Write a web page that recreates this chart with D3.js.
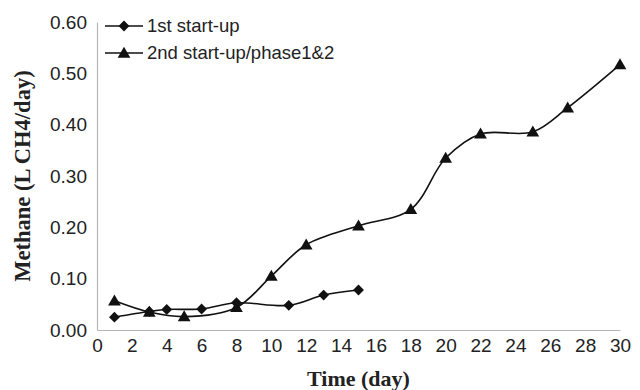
<!DOCTYPE html>
<meta charset="UTF-8">
<style>
body { margin: 0; background: #fff; }
.tick text { font: 19px "Liberation Sans", Arial, sans-serif; fill: #222; }
.axis-title { font: bold 22px "Liberation Serif", "Times New Roman", serif; fill: #222; }
.legend text { font: 18.5px "Liberation Sans", Arial, sans-serif; fill: #222; }
.series { fill: none; stroke: #111; stroke-width: 1.6px; }
</style>
<body>
<script src="https://d3js.org/d3.v7.min.js"></script>
<script>

// data
var days1 = [1, 3, 4, 6, 8, 11, 13, 15];
var methane1 = [0.025, 0.036, 0.040, 0.041, 0.053, 0.048, 0.068, 0.078];
var days2 = [1, 3, 5, 8, 10, 12, 15, 18, 20, 22, 25, 27, 30];
var methane2 = [0.057, 0.035, 0.026, 0.044, 0.105, 0.166, 0.203, 0.235, 0.335, 0.382, 0.386, 0.433, 0.517];
var seriesNames = ["1st start-up", "2nd start-up/phase1&2"];
var xTicks = d3.range(0, 31, 2);
var yTicks = [0, 0.1, 0.2, 0.3, 0.4, 0.5, 0.6];

var width = 640, height = 390;
var margin = {top: 22, right: 20, bottom: 60, left: 97};

var svg = d3.select("body").append("svg")
    .attr("width", width)
    .attr("height", height);

var x = d3.scaleLinear().domain([0, 30]).range([margin.left, 620]);
var y = d3.scaleLinear().domain([0, 0.6]).range([330, margin.top]);

// axes (no tick marks, light grey lines)
var xAxis = svg.append("g")
    .attr("transform", "translate(0," + y(0) + ")")
    .call(d3.axisBottom(x).tickValues(xTicks).tickSize(0).tickPadding(9).tickFormat(d3.format("d")));
xAxis.select(".domain").attr("stroke", "#b5b5b5").attr("stroke-width", 1.2);

var yAxis = svg.append("g")
    .attr("transform", "translate(" + x(0) + ",0)")
    .call(d3.axisLeft(y).tickValues(yTicks).tickSize(0).tickPadding(10).tickFormat(d3.format(".2f")));
yAxis.select(".domain").attr("stroke", "#b5b5b5").attr("stroke-width", 1.2);

// axis titles
svg.append("text")
    .attr("class", "axis-title")
    .attr("x", (x(0) + x(30)) / 2)
    .attr("y", 386)
    .attr("text-anchor", "middle")
    .text("Time (day)");

svg.append("text")
    .attr("class", "axis-title")
    .attr("transform", "translate(30," + ((y(0) + y(0.6)) / 2) + ") rotate(-90)")
    .attr("text-anchor", "middle")
    .style("font-size", "22.5px")
    .text("Methane (L CH4/day)");

// lines
var line = d3.line()
    .x(function(d) { return x(d[0]); })
    .y(function(d) { return y(d[1]); })
    .curve(d3.curveCatmullRom.alpha(0.5));

var data1 = d3.zip(days1, methane1);
var data2 = d3.zip(days2, methane2);

svg.append("path").datum(data1).attr("class", "series").attr("d", line);
svg.append("path").datum(data2).attr("class", "series").attr("d", line);

var diamond = d3.symbol().type(d3.symbolDiamond2).size(75);
var triangle = d3.symbol().type(d3.symbolTriangle).size(70);

svg.selectAll(".m2").data(data2).enter().append("path")
    .attr("class", "m2")
    .attr("d", triangle)
    .attr("fill", "#111")
    .attr("transform", function(d) { return "translate(" + x(d[0]) + "," + (y(d[1]) + 1) + ")"; });

svg.selectAll(".m1").data(data1).enter().append("path")
    .attr("class", "m1")
    .attr("d", diamond)
    .attr("fill", "#111")
    .attr("transform", function(d) { return "translate(" + x(d[0]) + "," + y(d[1]) + ")"; });

// legend
var legend = svg.append("g").attr("class", "legend");
var shapes = [diamond, triangle];
seriesNames.forEach(function(name, i) {
  var ly = 26 + i * 27;
  legend.append("line")
      .attr("x1", 105).attr("x2", 143)
      .attr("y1", ly).attr("y2", ly)
      .attr("stroke", "#111").attr("stroke-width", 1.6);
  legend.append("path")
      .attr("d", shapes[i])
      .attr("fill", "#111")
      .attr("transform", "translate(124," + (ly + (i ? 1 : 0)) + ")");
  legend.append("text")
      .attr("x", 147)
      .attr("y", ly)
      .attr("dy", "0.35em")
      .text(name);
});

</script>
</body>
